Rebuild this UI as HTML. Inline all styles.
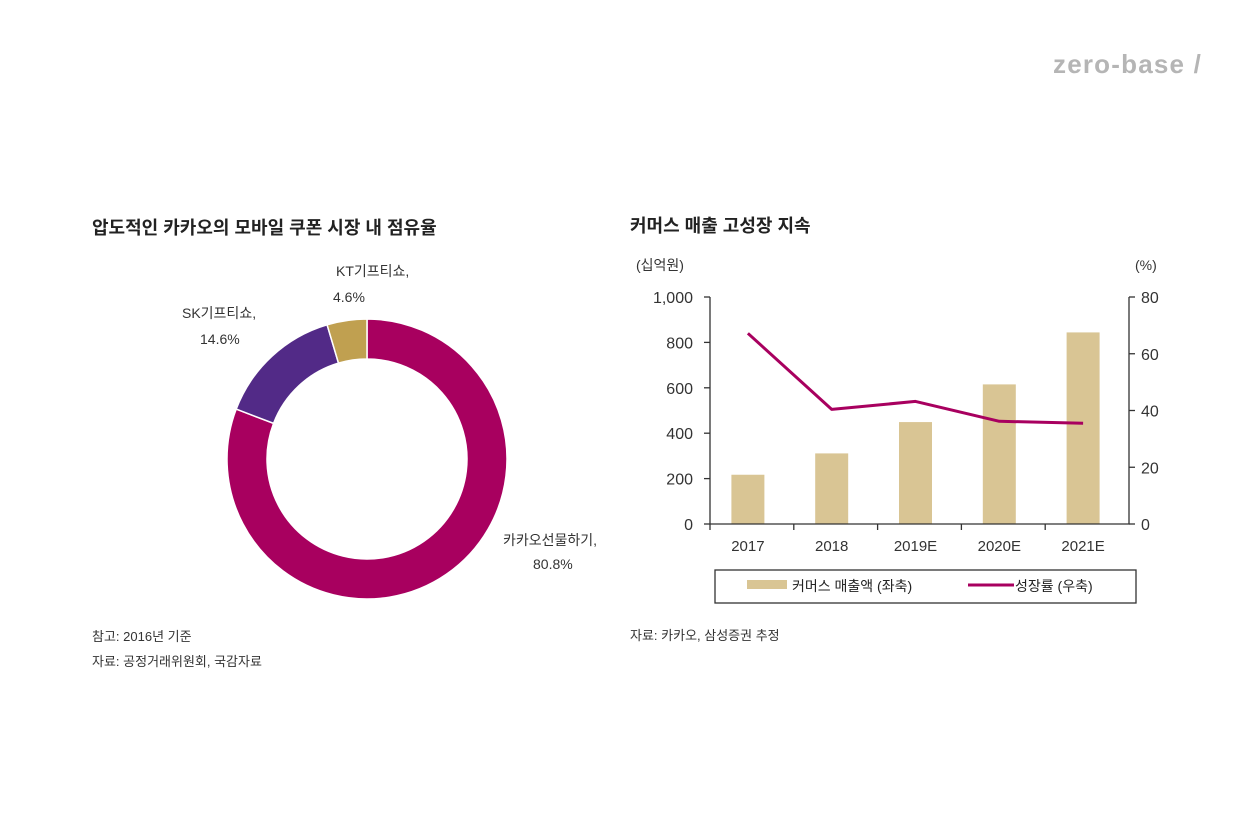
<!DOCTYPE html>
<html><head><meta charset="utf-8">
<style>
body{margin:0;width:1250px;height:820px;background:#fff;font-family:"Liberation Sans","Noto Sans CJK KR",sans-serif;color:#222;position:relative;overflow:hidden}
.t{position:absolute;white-space:nowrap}
</style></head><body>
<div class="t" style="left:1053px;top:49px;font-size:26px;font-weight:bold;color:#b5b5b5;letter-spacing:1.2px">zero-base /</div>
<div class="t" style="left:92px;top:214px;font-size:18px;font-weight:bold;color:#222">압도적인 카카오의 모바일 쿠폰 시장 내 점유율</div>
<div class="t" style="left:630px;top:212px;font-size:18px;font-weight:bold;color:#222">커머스 매출 고성장 지속</div>
<svg width="1250" height="820" style="position:absolute;left:0;top:0" font-family="Liberation Sans, Noto Sans CJK KR, sans-serif">
<g id="donut"></g>
<g id="bars"></g>
<text x="336" y="276" font-size="14" fill="#333">KT기프티쇼,</text>
<text x="333" y="302" font-size="14" fill="#333">4.6%</text>
<text x="182" y="318" font-size="14" fill="#333">SK기프티쇼,</text>
<text x="200" y="344" font-size="14" fill="#333">14.6%</text>
<text x="503" y="545" font-size="14" fill="#333">카카오선물하기,</text>
<text x="533" y="569" font-size="14" fill="#333">80.8%</text>
<text x="92" y="641" font-size="13" fill="#333">참고: 2016년 기준</text>
<text x="92" y="666" font-size="13" fill="#333">자료: 공정거래위원회, 국감자료</text>
<text x="630" y="640" font-size="13" fill="#333">자료: 카카오, 삼성증권 추정</text>
<text x="636" y="270" font-size="14" fill="#333">(십억원)</text>
<text x="1135" y="270" font-size="14" fill="#333">(%)</text>
<rect x="715" y="570" width="421" height="33" fill="none" stroke="#333" stroke-width="1.3"/>
<rect x="747" y="580" width="40" height="9" fill="#d9c594"/>
<text x="792" y="591" font-size="14" fill="#222">커머스 매출액 (좌축)</text>
<line x1="968" y1="585" x2="1014" y2="585" stroke="#a8005f" stroke-width="3"/>
<text x="1015" y="591" font-size="14" fill="#222">성장률 (우축)</text>
</svg>
<script>
const shareLabels=["카카오선물하기","SK기프티쇼","KT기프티쇼"];
const shareValues=[80.8,14.6,4.6];
const shareColors=["#a8005f","#522a87","#c0a050"];
const categories=["2017","2018","2019E","2020E","2021E"];
const revenue=[217,311,449,615,844];
const growth=[67.2,40.4,43.2,36.2,35.5];
const leftTicks=[0,200,400,600,800,1000];
const leftTickLabels=["0","200","400","600","800","1,000"];
const rightTicks=[0,20,40,60,80];
const NS="http://www.w3.org/2000/svg";
function mk(p,tag,a){const e=document.createElementNS(NS,tag);for(const k in a)e.setAttribute(k,a[k]);p.appendChild(e);return e;}
const dg=document.getElementById('donut');
const cx=367,cy=459,R=140,r=100;
let tot=shareValues.reduce((a,b)=>a+b,0),ang=0;
shareValues.forEach((v,i)=>{
 const a0=ang,a1=ang+v/tot*2*Math.PI;ang=a1;
 const P=(rad,a)=>[cx+rad*Math.sin(a),cy-rad*Math.cos(a)];
 const lg=(a1-a0)>Math.PI?1:0;
 const [x0,y0]=P(R,a0),[x1,y1]=P(R,a1),[x2,y2]=P(r,a1),[x3,y3]=P(r,a0);
 const p=mk(dg,'path',{d:`M${x0},${y0}A${R},${R} 0 ${lg} 1 ${x1},${y1}L${x2},${y2}A${r},${r} 0 ${lg} 0 ${x3},${y3}Z`,fill:shareColors[i],stroke:'#fff','stroke-width':1.5});
 
 
});
const bg=document.getElementById('bars');
const X0=710,X1=1129,Y0=524,Y1=297;
const cw=(X1-X0)/categories.length;
const yL=v=>Y0-(v/1000)*(Y0-Y1);
const yR=v=>Y0-(v/80)*(Y0-Y1);
const xc=i=>X0+cw*(i+0.5)-4;
revenue.forEach((v,i)=>{
 const b=mk(bg,'rect',{x:xc(i)-16.5,y:yL(v),width:33,height:Y0-yL(v),fill:'#d9c594'});
 
 
});
const ax=mk(bg,'path',{d:`M${X0},${Y1}V${Y0}H${X1}V${Y1}`,fill:'none',stroke:'#333','stroke-width':1.3});


leftTicks.forEach((t,i)=>{
 mk(bg,'line',{x1:X0-6,x2:X0,y1:yL(t),y2:yL(t),stroke:'#333','stroke-width':1.3});
 const tx=mk(bg,'text',{x:X0-17,y:yL(t)+6,'font-size':16,'text-anchor':'end',fill:'#333'});tx.textContent=leftTickLabels[i];
 
 
});
rightTicks.forEach(t=>{
 mk(bg,'line',{x1:X1,x2:X1+6,y1:yR(t),y2:yR(t),stroke:'#333','stroke-width':1.3});
 const tx=mk(bg,'text',{x:X1+12,y:yR(t)+6,'font-size':16,fill:'#333'});tx.textContent=t;
 
 
});
categories.forEach((c,i)=>{
 mk(bg,'line',{x1:X0+cw*i,x2:X0+cw*i,y1:Y0,y2:Y0+6,stroke:'#333','stroke-width':1.3});
 const tx=mk(bg,'text',{x:xc(i),y:Y0+27,'font-size':15,'text-anchor':'middle',fill:'#333'});tx.textContent=c;
 
 
});
const ln=mk(bg,'polyline',{points:growth.map((v,i)=>xc(i)+','+yR(v)).join(' '),fill:'none',stroke:'#a8005f','stroke-width':3,'stroke-linejoin':'round'});


</script>
</body></html>
